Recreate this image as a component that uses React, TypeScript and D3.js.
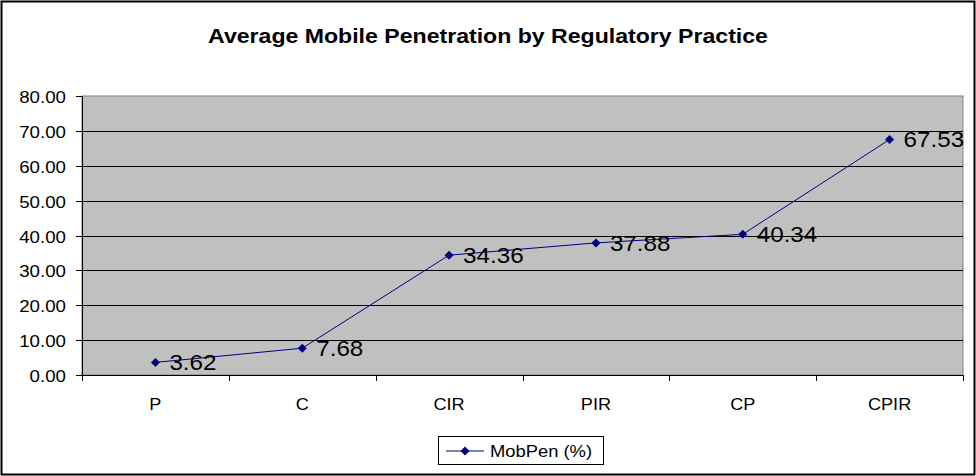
import React from "react";
import * as d3 from "d3";

const categories = ["P", "C", "CIR", "PIR", "CP", "CPIR"];
const values = [3.62, 7.68, 34.36, 37.88, 40.34, 67.53];
const yTicks = [0, 10, 20, 30, 40, 50, 60, 70, 80];
const seriesName = "MobPen (%)";
const title = "Average Mobile Penetration by Regulatory Practice";

const SX = 1.1;

function T(props: { x: number; y: number; size: number; anchor?: string; bold?: boolean; children: React.ReactNode }) {
  const { x, y, size, anchor = "start", bold = false, children } = props;
  return (
    <text
      transform={`translate(${x},${y}) scale(${SX},1)`}
      textAnchor={anchor}
      fontSize={size}
      fontWeight={bold ? "bold" : "normal"}
      fill="#000"
    >
      {children}
    </text>
  );
}

export default function App() {
  const W = 976, H = 476;
  const left = 82, right = 963, top = 96, bottom = 375;
  const x = d3.scaleBand<string>().domain(categories).range([left, right]);
  const y = d3.scaleLinear().domain([0, 80]).range([bottom, top]);
  const cx = (c: string) => (x(c) as number) + x.bandwidth() / 2;
  const line = d3.line<number>().x((_, i) => cx(categories[i])).y((v) => y(v));
  const font = "Liberation Sans, Arial, sans-serif";
  const diamond = (px: number, py: number, r = 4.5) =>
    `M${px},${py - r}L${px + r},${py}L${px},${py + r}L${px - r},${py}Z`;
  const bounds = categories.map((c) => x(c) as number).concat([right]);
  return (
    <svg width={W} height={H} style={{ position: "absolute", left: 0, top: 0 }} fontFamily={font}>
      <rect x={0} y={0} width={W} height={H} fill="#fff" />
      <rect x={1.5} y={1.5} width={W - 3} height={H - 3} fill="none" stroke="#000" strokeWidth={2} />
      <T x={488} y={43} size={21} anchor="middle" bold>{title}</T>
      <rect x={left} y={top} width={right - left} height={bottom - top} fill="#C0C0C0" stroke="#808080" strokeWidth={1} />
      {yTicks.filter((t) => t > 0 && t < 80).map((t) => (
        <line key={t} x1={left} x2={right} y1={Math.round(y(t)) + 0.5} y2={Math.round(y(t)) + 0.5} stroke="#000" />
      ))}
      <line x1={left + 0.5} x2={left + 0.5} y1={top} y2={bottom + 6} stroke="#000" />
      <line x1={left} x2={right} y1={bottom + 0.5} y2={bottom + 0.5} stroke="#000" />
      {yTicks.map((t) => (
        <g key={t}>
          <line x1={left - 6} x2={left} y1={Math.round(y(t)) + 0.5} y2={Math.round(y(t)) + 0.5} stroke="#000" />
          <T x={left - 16} y={y(t) + 7} size={17} anchor="end">{t.toFixed(2)}</T>
        </g>
      ))}
      {bounds.map((b, i) => (
        <line key={i} x1={Math.round(b) + 0.5} x2={Math.round(b) + 0.5} y1={bottom} y2={bottom + 6} stroke="#000" />
      ))}
      {categories.map((c) => (
        <T key={c} x={cx(c)} y={410} size={16.5} anchor="middle">{c}</T>
      ))}
      <path d={line(values) as string} fill="none" stroke="#000080" strokeWidth={1} />
      {values.map((v, i) => (
        <path key={i} d={diamond(cx(categories[i]), y(v))} fill="#000080" />
      ))}
      {values.map((v, i) => (
        <T key={"l" + i} x={cx(categories[i]) + 14} y={y(v) + 8} size={22}>{v.toFixed(2)}</T>
      ))}
      <rect x={438.5} y={436.5} width={165} height={28} fill="#fff" stroke="#000" />
      <line x1={446} x2={484} y1={451} y2={451} stroke="#000080" />
      <path d={diamond(465, 451)} fill="#000080" />
      <T x={490} y={457} size={16.7}>{seriesName}</T>
    </svg>
  );
}
